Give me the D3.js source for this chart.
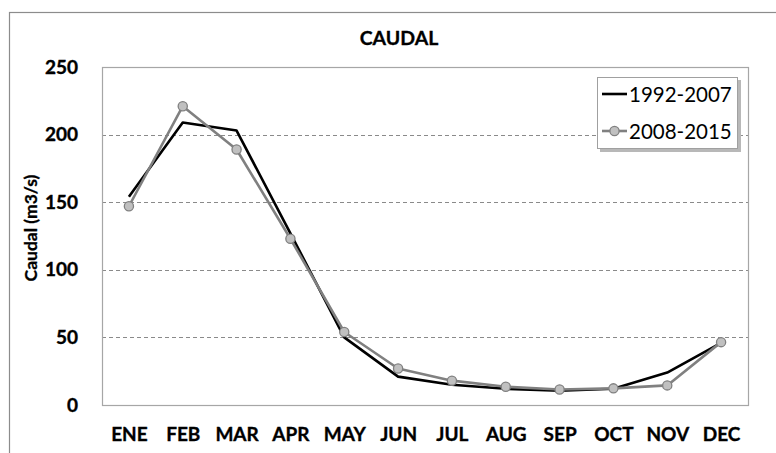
<!DOCTYPE html>
<html>
<head>
<meta charset="utf-8">
<script src="https://cdn.jsdelivr.net/npm/d3@7/dist/d3.min.js"></script>
<style>
html,body{margin:0;padding:0;background:#fff;}
svg{display:block;}
text{font-family:Lato,"Open Sans",sans-serif;}
</style>
</head>
<body>
<div id="chart"></div>
<script>
const months = ["ENE","FEB","MAR","APR","MAY","JUN","JUL","AUG","SEP","OCT","NOV","DEC"];
const series1Name = "1992-2007";
const series1 = [154, 209, 203, 127, 50, 21, 15, 12, 10.5, 12, 24, 46];
const series2Name = "2008-2015";
const series2 = [147, 221, 189, 123, 54, 27, 18, 13.5, 11.5, 12.3, 14.5, 46.5];
const yTicks = [0, 50, 100, 150, 200, 250];
const titleText = "CAUDAL";
const yTitle = "Caudal (m3/s)";

const W = 776, H = 453;
const m = {left:102, right:748, top:67, bottom:405};

const svg = d3.select("#chart").append("svg").attr("width", W).attr("height", H);

// outer frame
svg.append("rect").attr("x", 9.5).attr("y", 12.5).attr("width", W).attr("height", H)
  .attr("fill", "#fff").attr("stroke", "#8c8c8c").attr("stroke-width", 1.2);

const x = d3.scalePoint().domain(months).range([m.left, m.right]).padding(0.5);
const y = d3.scaleLinear().domain([0, 250]).range([m.bottom, m.top]);

// gridlines
svg.append("g").selectAll("line").data(yTicks.filter(d => d > 0 && d < 250)).join("line")
  .attr("x1", m.left).attr("x2", m.right)
  .attr("y1", d => Math.round(y(d)) + 0.5).attr("y2", d => Math.round(y(d)) + 0.5)
  .attr("stroke", "#8a8a8a").attr("stroke-width", 1).attr("stroke-dasharray", "4,3");

// plot border
svg.append("rect").attr("x", m.left + 0.5).attr("y", m.top + 0.5)
  .attr("width", m.right - m.left).attr("height", m.bottom - m.top)
  .attr("fill", "none").attr("stroke", "#a6a6a6").attr("stroke-width", 1.2);

// y axis labels
const yAxis = d3.axisLeft(y).tickValues(yTicks).tickSize(0).tickPadding(24);
const gy = svg.append("g").attr("transform", `translate(${m.left},0)`).call(yAxis);
gy.select(".domain").remove();
gy.selectAll("text").attr("font-family", "Lato, sans-serif").attr("font-weight", "bold")
  .attr("font-size", "19px").attr("fill", "#000").attr("stroke", "#000").attr("stroke-width", 0.35);

// x axis labels
const xAxis = d3.axisBottom(x).tickSize(0).tickPadding(23);
const gx = svg.append("g").attr("transform", `translate(0,${m.bottom})`).call(xAxis);
gx.select(".domain").remove();
gx.selectAll("text").attr("font-family", "Lato, sans-serif").attr("font-weight", "bold")
  .attr("font-size", "19px").attr("fill", "#000").attr("stroke", "#000").attr("stroke-width", 0.35);

// title
svg.append("text").attr("x", 399).attr("y", 45).attr("text-anchor", "middle")
  .attr("font-weight", "bold").attr("font-size", "19.5px").attr("fill", "#000")
  .attr("stroke", "#000").attr("stroke-width", 0.3).text(titleText);

// y title
svg.append("text").attr("transform", `translate(36.5,228) rotate(-90)`).attr("text-anchor", "middle")
  .attr("font-weight", "bold").attr("font-size", "17.5px").attr("fill", "#000")
  .attr("stroke", "#000").attr("stroke-width", 0.3).text(yTitle);

const line = d3.line().x((d, i) => x(months[i])).y(d => y(d));

// series 1 (black)
svg.append("path").datum(series1).attr("d", line)
  .attr("fill", "none").attr("stroke", "#000").attr("stroke-width", 2.6).attr("stroke-linejoin", "round");

// series 2 (gray with markers)
svg.append("path").datum(series2).attr("d", line)
  .attr("fill", "none").attr("stroke", "#808080").attr("stroke-width", 2.6).attr("stroke-linejoin", "round");
svg.append("g").selectAll("circle").data(series2).join("circle")
  .attr("cx", (d, i) => x(months[i])).attr("cy", d => y(d)).attr("r", 4.6)
  .attr("fill", "#c0c0c0").attr("stroke", "#808080").attr("stroke-width", 1.3);

// legend
const lg = svg.append("g");
lg.append("rect").attr("x", 600).attr("y", 80).attr("width", 141).attr("height", 72).attr("fill", "#b8b8b8");
lg.append("rect").attr("x", 597.5).attr("y", 77.5).attr("width", 140).attr("height", 71)
  .attr("fill", "#fff").attr("stroke", "#a0a0a0").attr("stroke-width", 1);
lg.append("line").attr("x1", 602).attr("x2", 627).attr("y1", 94).attr("y2", 94)
  .attr("stroke", "#000").attr("stroke-width", 2.6);
lg.append("text").attr("x", 629).attr("y", 101.5).attr("font-size", "20.5px").attr("fill", "#000").text(series1Name);
lg.append("line").attr("x1", 602).attr("x2", 627).attr("y1", 131).attr("y2", 131)
  .attr("stroke", "#808080").attr("stroke-width", 2.6);
lg.append("circle").attr("cx", 614.5).attr("cy", 131).attr("r", 4.6)
  .attr("fill", "#c0c0c0").attr("stroke", "#808080").attr("stroke-width", 1.3);
lg.append("text").attr("x", 629).attr("y", 138.5).attr("font-size", "20.5px").attr("fill", "#000").text(series2Name);
</script>
</body>
</html>
